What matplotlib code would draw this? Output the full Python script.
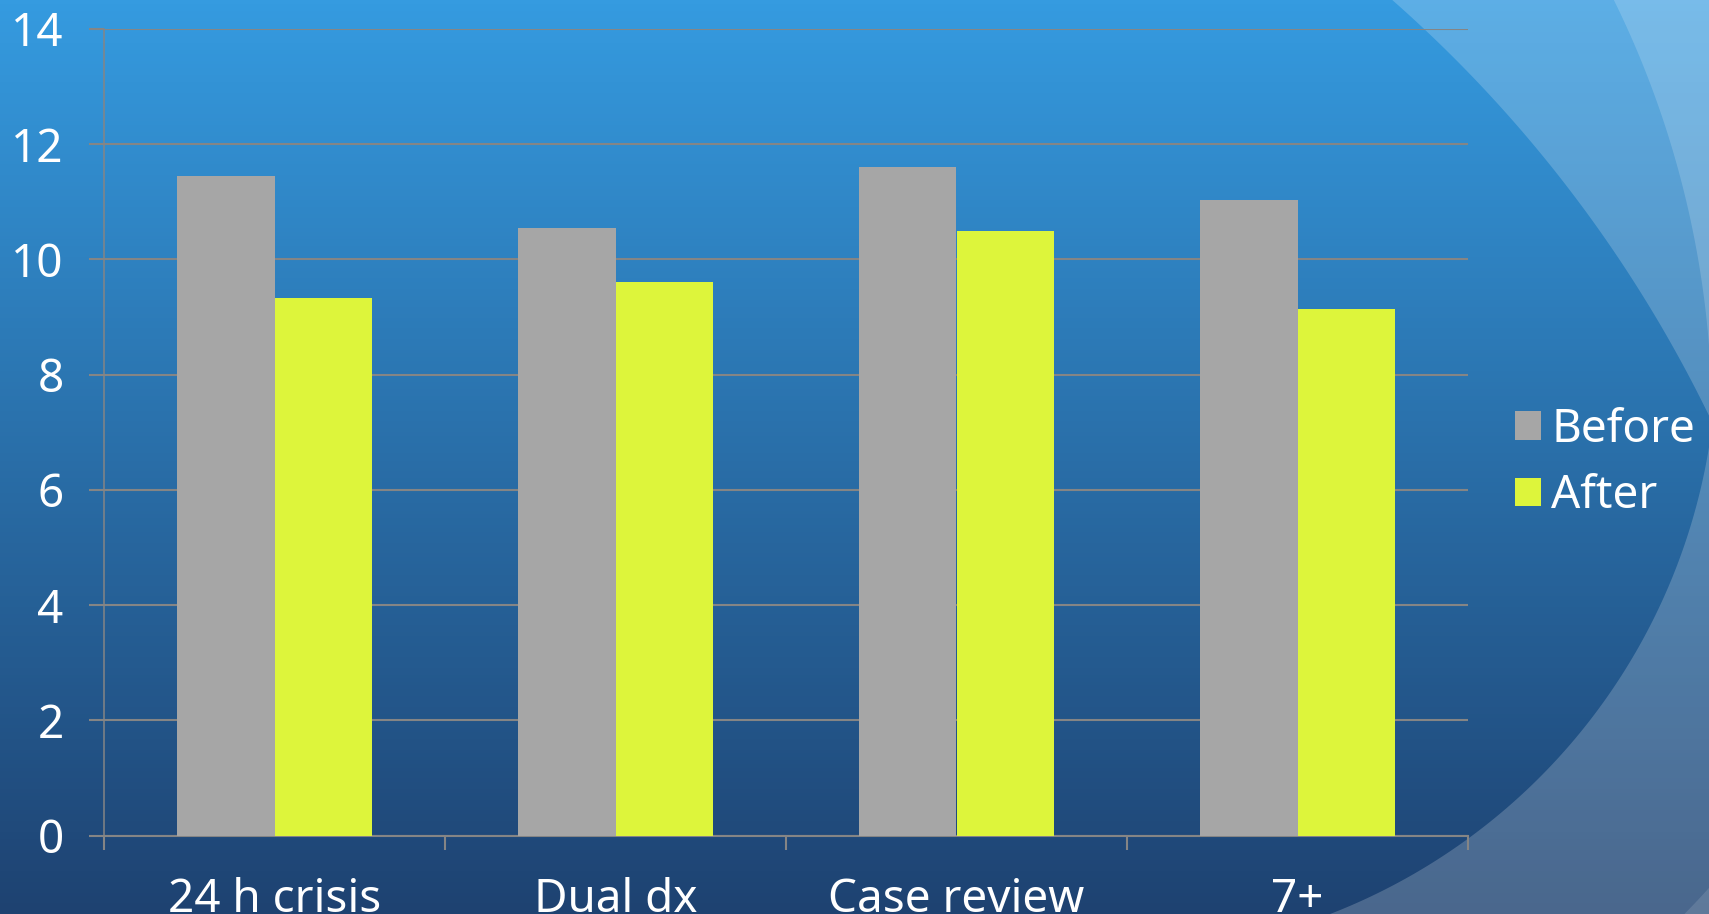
import numpy as np
import matplotlib.pyplot as plt
from matplotlib.path import Path
from matplotlib.patches import PathPatch

# Chart data.
categories = ["24 h crisis", "Dual dx", "Case review", "7+"]
before = [11.45, 10.55, 11.6, 11.03]
after = [9.33, 9.61, 10.5, 9.14]
series_names = ["Before", "After"]
series_colors = ["#a6a6a6", "#ddf53b"]
y_ticks = [0, 2, 4, 6, 8, 10, 12, 14]

W, H = 1709, 914
GRID = "#858585"

plt.rcParams['font.family'] = ['Noto Sans', 'DejaVu Sans']

fig = plt.figure(figsize=(W / 100, H / 100), dpi=100)

# Background: vertical gradient plus the light swooshes on the right, in pixel coords.
bg = fig.add_axes([0, 0, 1, 1], zorder=-10)
bg.set_xlim(0, W)
bg.set_ylim(H, 0)
bg.axis("off")
top = np.array([0x35, 0x9b, 0xe0]) / 255
bottom = np.array([0x1e, 0x42, 0x71]) / 255
t = np.linspace(0, 1, 256)[:, None]
grad = top * (1 - t) + bottom * t
bg.imshow(grad[:, None, :].repeat(2, axis=1), extent=(0, W, H, 0), aspect="auto")


def arc(cx, cy, r, y0, y1, n=120):
    """Right-hand part of a circle between two y values (pixel coords)."""
    ys = np.linspace(y0, y1, n)
    xs = cx + np.sqrt(np.clip(r ** 2 - (ys - cy) ** 2, 0, None))
    return np.column_stack([xs, ys])


# big swoosh: upper circle and lower circle meeting near the right edge
c1 = (515, 997, 1328)
c2 = (1111, 349, 606)
ys = np.linspace(0, H, 2000)
x1 = c1[0] + np.sqrt(np.clip(c1[2] ** 2 - (ys - c1[1]) ** 2, 0, None))
x2 = c2[0] + np.sqrt(np.clip(c2[2] ** 2 - (ys - c2[1]) ** 2, 0, None))
edge = np.minimum(x1, x2)
pts = np.column_stack([edge, ys])
pts = np.vstack([pts, [[W + 5, H], [W + 5, 0]]])
bg.add_patch(PathPatch(Path(pts), facecolor="white", alpha=0.2, lw=0))

# second, lighter band at the top right
pts = arc(760, 421, 952, 0, 421)
pts = np.vstack([pts, [[W + 5, 421], [W + 5, 0]]])
bg.add_patch(PathPatch(Path(pts), facecolor="white", alpha=0.17, lw=0))

# small band at the bottom right corner
pts = arc(1111, 349, 805, 820, H)
pts = np.vstack([pts, [[W + 5, H], [W + 5, 820]]])
bg.add_patch(PathPatch(Path(pts), facecolor="white", alpha=0.12, lw=0))

# Main chart
ax = fig.add_axes([104 / W, 1 - 835.5 / H, 1364 / W, (835.5 - 29) / H])
ax.set_facecolor("none")

x = np.arange(len(categories))
width = 0.285
b1 = ax.bar(x - width / 2, before, width, color=series_colors[0], zorder=3)
b2 = ax.bar(x + width / 2, after, width, color=series_colors[1], zorder=3)

ax.set_xlim(-0.5, len(categories) - 0.5)
ax.set_ylim(0, 14)
ax.set_yticks(y_ticks)
ax.set_xticks(x)
ax.set_xticklabels(categories)
ax.set_xticks(np.arange(len(categories) + 1) - 0.5, minor=True)

ax.yaxis.grid(True, color=GRID, lw=1.5, zorder=0)
ax.set_axisbelow(True)
for side in ["top", "right"]:
    ax.spines[side].set_visible(False)
ax.spines["left"].set_color(GRID)
ax.spines["left"].set_linewidth(1.1)
ax.spines["bottom"].set_color(GRID)
ax.spines["bottom"].set_linewidth(1.5)

ax.tick_params(axis="y", length=11, width=1.5, color=GRID, pad=18,
               labelsize=33, labelcolor="white")
ax.tick_params(axis="x", which="major", length=0, pad=30,
               labelsize=33, labelcolor="white")
ax.tick_params(axis="x", which="minor", length=10, width=1.5, color=GRID)

leg = fig.legend([b1, b2], series_names, loc="center left",
                 bbox_to_anchor=(1515 / W, 1 - 463 / H), frameon=False,
                 fontsize=33, handlelength=0.57, handleheight=0.57,
                 handletextpad=0.22, labelspacing=0.45, borderpad=0,
                 borderaxespad=0)
for txt in leg.get_texts():
    txt.set_color("white")

fig.savefig("out.png", dpi=100)
